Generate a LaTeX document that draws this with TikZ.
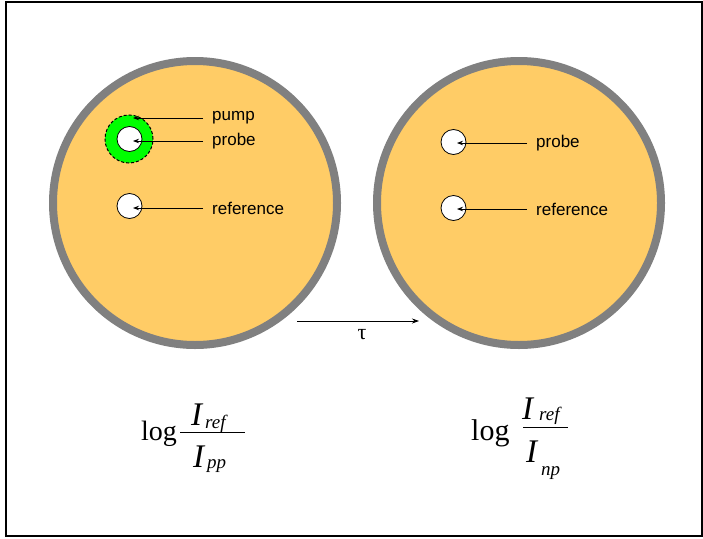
\documentclass[tikz,border=0pt]{standalone}
\usepackage{fontspec}
\setmainfont{Liberation Serif}
\newfontfamily\lblfont{Liberation Sans}
\usetikzlibrary{arrows.meta}
\definecolor{cellor}{RGB}{255,204,102}
\definecolor{cellgray}{RGB}{128,128,128}
\definecolor{pumpgreen}{RGB}{0,255,0}
\tikzset{
  cell/.style={circle, draw=cellgray, fill=cellor, line width=8pt, minimum size=284pt, inner sep=0pt},
  hole/.style={circle, draw=black, fill=white, line width=0.8pt, minimum size=25pt, inner sep=0pt},
  pumpring/.style={circle, draw=black, fill=pumpgreen, line width=1pt, dash pattern=on 3pt off 2pt, minimum size=48pt, inner sep=0pt},
  lbl/.style={font=\lblfont\fontsize{17}{19}\selectfont, anchor=west, inner sep=0pt},
  pointer/.style={draw=black, line width=0.8pt, -{Stealth[length=6pt,width=4.5pt]}, shorten <=9pt},
  big/.style={font=\fontsize{30}{34}\selectfont, inner sep=0pt, anchor=base west},
  bigit/.style={font=\fontsize{33}{36}\selectfont\itshape, inner sep=0pt, anchor=base west},
  subit/.style={font=\fontsize{19}{22}\selectfont\itshape, inner sep=0pt, anchor=base west},
}
\begin{document}
\begin{tikzpicture}[x=1pt,y=-1pt]
\useasboundingbox (0,0) rectangle (703,538);
\draw[line width=2pt] (6,2) rectangle (702,536);

% cells
\node[cell] (cellL) at (195,203) {};
\node[cell] (cellR) at (519,203) {};

% left cell content
\node[pumpring] (pump) at (129,139) {};
\node[hole] (probeL) at (129.5,139) {};
\node[hole] (refL) at (129.5,206) {};
\coordinate (tipPump) at (133,118);
\coordinate (tipProbeL) at (133,141);
\coordinate (tipRefL) at (133,208);
\node[lbl] (tPump) at (212,118) {pump};
\node[lbl] (tProbeL) at (212,141) {probe};
\node[lbl] (tRefL) at (212,208) {reference};
\draw[pointer] (tPump.west) -- (tipPump);
\draw[pointer] (tProbeL.west) -- (tipProbeL);
\draw[pointer] (tRefL.west) -- (tipRefL);

% right cell content
\node[hole] (probeR) at (453.5,142) {};
\node[hole] (refR) at (453.5,208) {};
\coordinate (tipProbeR) at (457,143);
\coordinate (tipRefR) at (457,209);
\node[lbl] (tProbeR) at (536,143) {probe};
\node[lbl] (tRefR) at (536,209) {reference};
\draw[pointer] (tProbeR.west) -- (tipProbeR);
\draw[pointer] (tRefR.west) -- (tipRefR);

% delay arrow
\coordinate (dA) at (297,321);
\coordinate (dB) at (419,321);
\draw[line width=0.8pt, -{Stealth[length=7pt,width=5pt]}] (dA) -- (dB);
\node[font=\fontsize{22}{24}\selectfont, inner sep=0pt] (tau) at (362,335) {τ};

% left formula
\node[big, font=\fontsize{28}{32}\selectfont] (logL) at (141,440) {log};
\coordinate (barLa) at (180,432);
\coordinate (barLb) at (245,432);
\draw[line width=1pt] (barLa) -- (barLb);
\node[bigit] (numLI) at (191,425) {I};
\node[subit] (numLs) at (205,428) {ref};
\node[bigit] (denLI) at (193,467) {I};
\node[subit] (denLs) at (207,468) {pp};

% right formula
\node[big] (logR) at (471,440) {log};
\coordinate (barRa) at (523,427);
\coordinate (barRb) at (568,427);
\draw[line width=1pt] (barRa) -- (barRb);
\node[bigit] (numRI) at (522,419) {I};
\node[subit] (numRs) at (539,420) {ref};
\node[bigit] (denRI) at (526,462) {I};
\node[subit] (denRs) at (541,475) {np};
\end{tikzpicture}
\end{document}
